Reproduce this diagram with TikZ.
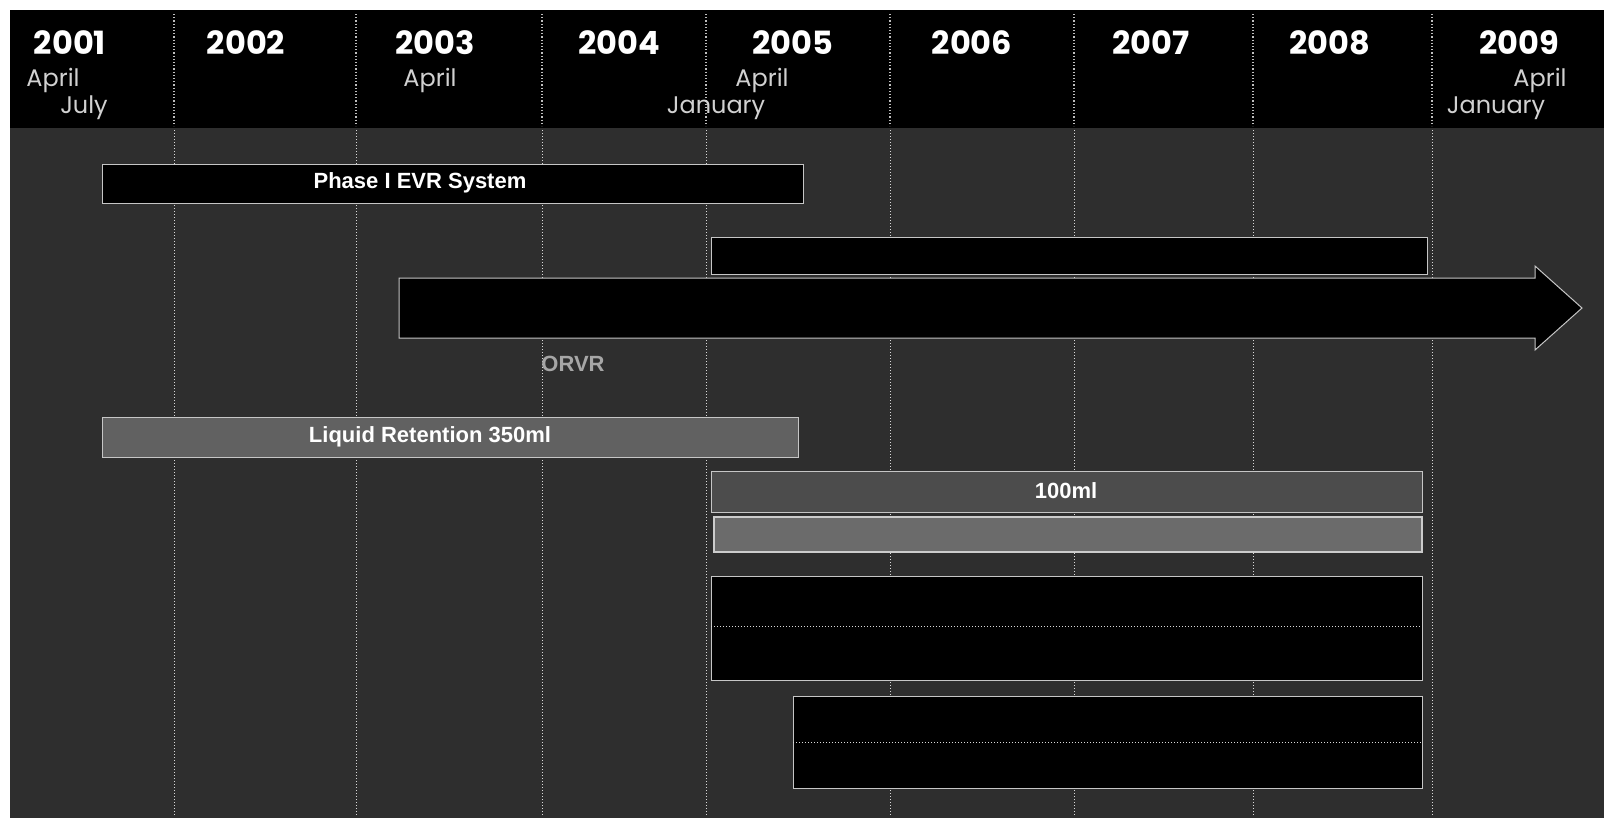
\documentclass[tikz,border=0pt]{standalone}
\usepackage{fontspec}
\setmainfont{Liberation Sans}
\newfontfamily\gothic{Poppins}
\begin{document}
\begin{tikzpicture}[x=0.5pt,y=-0.5pt,
  year/.style={text=white,font=\gothic\bfseries\fontsize{16}{16}\selectfont,inner sep=0pt},
  month/.style={text=white!82!black,font=\gothic\fontsize{12}{12}\selectfont,inner sep=0pt},
  bar/.style={draw=gray!45,line width=0.5pt},
  barlabel/.style={text=white,font=\bfseries\fontsize{11}{11}\selectfont,inner sep=0pt},
  faintlabel/.style={text=gray!70,font=\bfseries\fontsize{11}{11}\selectfont,inner sep=0pt},
  sephead/.style={draw=gray!50,densely dotted,line width=0.6pt},
  sepbody/.style={draw=gray!30,densely dotted,line width=0.5pt}]
\useasboundingbox[fill=white] (0,0) rectangle (1604,831);
% body and header
\fill[black!82] (10,128) rectangle (1604,818);
\fill[black] (10,10) rectangle (1604,128);
% column separators
\foreach \sx in {174,356,542,706,890,1074,1253,1432}{
  \draw[sephead] (\sx,14) -- (\sx,126);
  \draw[sepbody] (\sx,130) -- (\sx,816);
}
% years
\node[year] (y2001) at (70,43) {2001};
\node[year] (y2002) at (246,43) {2002};
\node[year] (y2003) at (435,43) {2003};
\node[year] (y2004) at (619,43) {2004};
\node[year] (y2005) at (793,43) {2005};
\node[year] (y2006) at (972,43) {2006};
\node[year] (y2007) at (1151,43) {2007};
\node[year] (y2008) at (1330,43) {2008};
\node[year] (y2009) at (1519,43) {2009};
% months
\node[month] (m1) at (53,80) {April};
\node[month] (m2) at (84,108) {July};
\node[month] (m3) at (430,80) {April};
\node[month] (m4) at (762,80) {April};
\node[month] (m5) at (716,108) {January};
\node[month] (m6) at (1540,80) {April};
\node[month] (m7) at (1496,108) {January};
% Phase I bar
\draw[bar,fill=black] (102,164) rectangle (803,203);
\node[barlabel] (phase1) at (420,183) {Phase I EVR System};
% second bar
\draw[bar,fill=black] (711,237) rectangle (1427,274);
% long arrow
\draw[bar,fill=black] (399,278) -- (1535,278) -- (1535,266) -- (1582,308)
  -- (1535,350) -- (1535,338) -- (399,338) -- cycle;
% ORVR
\node[faintlabel] (orvr) at (573,364) {ORVR};
% Liquid retention
\draw[bar,fill=black!62] (102,417) rectangle (798,457);
\node[barlabel] (liquid) at (430,437) {Liquid Retention 350ml};
% 100 ml
\draw[bar,fill=black!70] (711,471) rectangle (1422,512);
\node[barlabel] (ml100) at (1066,491) {100ml};
% next bar
\draw[draw=white!80!black,line width=0.6pt,fill=black!58] (714,517) rectangle (1422,552);
% two-row boxes
\draw[bar,fill=black] (711,576) rectangle (1422,680);
\draw[sepbody] (711,626) -- (1422,626);
\draw[bar,fill=black] (793,696) rectangle (1422,788);
\draw[sepbody] (793,742) -- (1422,742);
\end{tikzpicture}
\end{document}
